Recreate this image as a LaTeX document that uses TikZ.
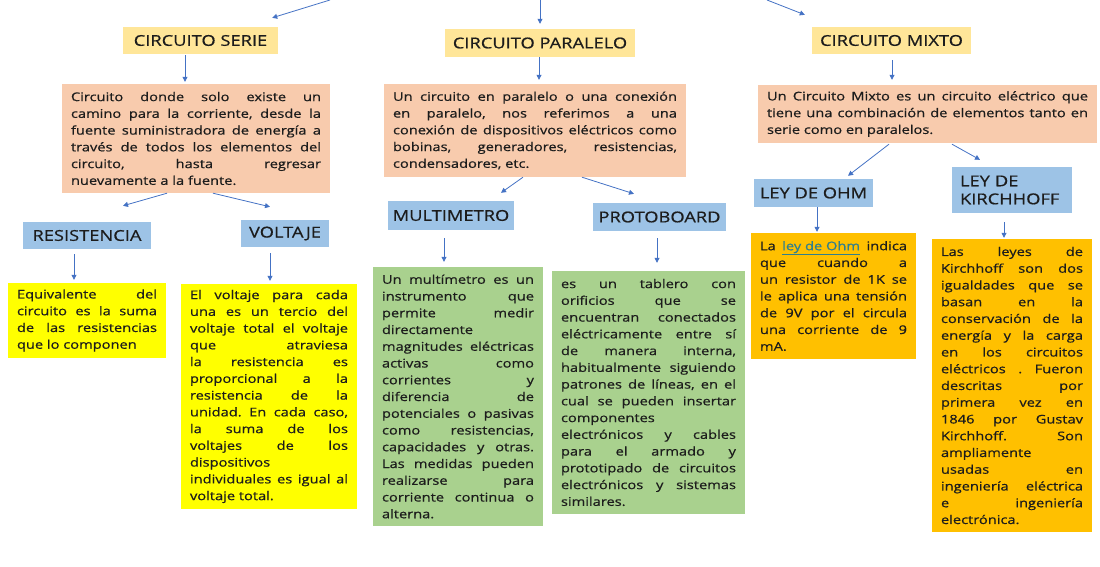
\documentclass[tikz,border=0pt]{standalone}
\usepackage{fontspec}
\setmainfont{Open Sans}[FakeStretch=1.22,FakeBold=0.6]
\usetikzlibrary{arrows.meta}
\definecolor{titulofill}{HTML}{FFE699}
\definecolor{salmon}{HTML}{F8CBAD}
\definecolor{celeste}{HTML}{9DC3E6}
\definecolor{amarillo}{HTML}{FFFF00}
\definecolor{verde}{HTML}{A9D18E}
\definecolor{naranja}{HTML}{FFC000}
\definecolor{flechaazul}{HTML}{4472C4}
\definecolor{enlace}{HTML}{2F7F8F}
\definecolor{tinta}{HTML}{1C1C1C}
\tikzset{
  titulo/.style={fill=titulofill,inner sep=0pt,font=\fontsize{15}{18}\selectfont,text=tinta},
  tema/.style={titulo,fill=celeste},
  texto/.style={inner xsep=9pt,inner ysep=0pt,align=justify,text=tinta,
    font={\fontsize{12}{16.75}\selectfont\frenchspacing\tolerance=10000\relax\hbadness=10000\relax\hyphenpenalty=10000\relax}},
  desc/.style={texto,fill=salmon},
  nota/.style={texto,fill=amarillo},
  hoja/.style={texto,fill=verde},
  ley/.style={texto,fill=naranja},
  flecha/.style={-{Triangle[length=5pt,width=5pt]},draw=flechaazul,line width=0.8pt}
}

\begin{document}
\begin{tikzpicture}[x=1pt,y=-1pt]
  \useasboundingbox (0,0) rectangle (1100,567);

  % titles
  \node[titulo,minimum width=155pt,minimum height=27pt] (serie) at (200.5,40.5) {CIRCUITO SERIE};
  \node[titulo,minimum width=190pt,minimum height=28pt] (paralelo) at (540,43) {CIRCUITO PARALELO};
  \node[titulo,minimum width=159pt,minimum height=27pt] (mixto) at (891.5,40.5) {CIRCUITO MIXTO};

  % definitions
  \node[desc,text width=250pt,minimum height=109pt] (dserie) at (196,138.5) {%
    Circuito donde solo existe un\linebreak
    camino para la corriente, desde la\linebreak
    fuente suministradora de energía a\linebreak
    través de todos los elementos del\linebreak
    circuito, hasta regresar\linebreak
    nuevamente a la fuente.};
  \node[desc,text width=284pt,minimum height=93pt] (dparalelo) at (535,130.5) {%
    Un circuito en paralelo o una conexión\linebreak
    en paralelo, nos referimos a una\linebreak
    conexión de dispositivos eléctricos como\linebreak
    bobinas, generadores, resistencias,\linebreak
    condensadores, etc.};
  \node[desc,text width=321pt,minimum height=58pt] (dmixto) at (927.5,114) {%
    Un Circuito Mixto es un circuito eléctrico que\linebreak
    tiene una combinación de elementos tanto en\linebreak
    serie como en paralelos.};

  % topics
  \node[tema,minimum width=128pt,minimum height=27pt] (resist) at (87,235.5) {RESISTENCIA};
  \node[tema,minimum width=88pt,minimum height=27pt] (voltaje) at (285,233.5) {VOLTAJE};
  \node[tema,minimum width=126pt,minimum height=29pt] (multi) at (451,215.5) {MULTIMETRO};
  \node[tema,minimum width=133pt,minimum height=28pt] (proto) at (659.5,217) {PROTOBOARD};
  \node[tema,minimum width=119pt,minimum height=28pt] (ohm) at (813.5,193) {LEY DE OHM};
  \node[tema,minimum width=120pt,minimum height=46pt,text width=104pt,align=left] (kirch) at (1012,190) {LEY DE\\KIRCHHOFF};

  % explanations
  \node[nota,text width=140pt,minimum height=75pt] (dresist) at (87,320.5) {%
    Equivalente del\linebreak
    circuito es la suma\linebreak
    de las resistencias\linebreak
    que lo componen};
  \node[nota,text width=158pt,minimum height=225pt] (dvoltaje) at (269,396.5) {%
    El voltaje para cada\linebreak
    una es un tercio del\linebreak
    voltaje total el voltaje\linebreak
    que atraviesa\linebreak
    la resistencia es\linebreak
    proporcional a la\linebreak
    resistencia de la\linebreak
    unidad. En cada caso,\linebreak
    la suma de los\linebreak
    voltajes de los\linebreak
    dispositivos\newline
    individuales es igual al\linebreak
    voltaje total.};
  \node[hoja,text width=152pt,minimum height=259pt] (dmulti) at (458,396.5) {%
    Un multímetro es un\linebreak
    instrumento que\linebreak
    permite medir\linebreak
    directamente\newline
    magnitudes eléctricas\linebreak
    activas como\linebreak
    corrientes y\linebreak
    diferencia de\linebreak
    potenciales o pasivas\linebreak
    como resistencias,\linebreak
    capacidades y otras.\linebreak
    Las medidas pueden\linebreak
    realizarse para\linebreak
    corriente continua o\linebreak
    alterna.};
  \node[hoja,text width=175pt,minimum height=243pt] (dproto) at (648.5,392.5) {%
    es un tablero con\linebreak
    orificios que se\linebreak
    encuentran conectados\linebreak
    eléctricamente entre sí\linebreak
    de manera interna,\linebreak
    habitualmente siguiendo\linebreak
    patrones de líneas, en el\linebreak
    cual se pueden insertar\linebreak
    componentes\newline
    electrónicos y cables\linebreak
    para el armado y\linebreak
    prototipado de circuitos\linebreak
    electrónicos y sistemas\linebreak
    similares.};
  \node[ley,text width=147pt,minimum height=126pt] (dohm) at (833.5,296) {%
    La {\color{enlace}\underline{ley de Ohm}} indica\linebreak
    que cuando a\linebreak
    un resistor de 1K se\linebreak
    le aplica una tensión\linebreak
    de 9V por el circula\linebreak
    una corriente de 9\linebreak
    mA.};
  \node[ley,text width=142pt,minimum height=293pt] (dkirch) at (1012,385.5) {%
    Las leyes de\linebreak
    Kirchhoff son dos\linebreak
    igualdades que se\linebreak
    basan en la\linebreak
    conservación de la\linebreak
    energía y la carga\linebreak
    en los circuitos\linebreak
    eléctricos . Fueron\linebreak
    descritas por\linebreak
    primera vez en\linebreak
    1846 por Gustav\linebreak
    Kirchhoff. Son\linebreak
    ampliamente\newline
    usadas en\linebreak
    ingeniería eléctrica\linebreak
    e ingeniería\linebreak
    electrónica.};

  % connectors
  \coordinate (arriba1) at (330,0);
  \coordinate (arriba2) at (540,0);
  \coordinate (arriba3) at (767,0);
  \draw[flecha] (arriba1) -- ([xshift=-6pt,yshift=9pt]serie.north east);
  \draw[flecha] (arriba2) -- ([yshift=5pt]paralelo.north);
  \draw[flecha] (arriba3) -- ([xshift=-7pt,yshift=12pt]mixto.north west);

  \draw[flecha] ([xshift=-15.5pt,yshift=-1pt]serie.south) -- ([xshift=-11pt,yshift=2pt]dserie.north);
  \draw[flecha] ([xshift=-1pt]paralelo.south) -- ([xshift=4pt,yshift=4pt]dparalelo.north);
  \draw[flecha] ([xshift=0.5pt,yshift=-6pt]mixto.south) -- ([xshift=-35.5pt,yshift=5pt]dmixto.north);

  \draw[flecha] ([xshift=-29pt]dserie.south) -- ([xshift=36pt,yshift=16pt]resist.north);
  \draw[flecha] ([xshift=17pt]dserie.south) -- ([xshift=-15pt,yshift=13pt]voltaje.north);
  \draw[flecha] ([xshift=-12pt]dparalelo.south) -- ([xshift=50pt,yshift=8pt]multi.north);
  \draw[flecha] ([xshift=47pt]dparalelo.south) -- ([xshift=-25.5pt,yshift=9pt]proto.north);
  \draw[flecha] ([xshift=-38.5pt,yshift=-1pt]dmixto.south) -- ([xshift=34.5pt,yshift=3pt]ohm.north);
  \draw[flecha] ([xshift=24.5pt,yshift=-1pt]dmixto.south) -- ([xshift=-32pt,yshift=7pt]kirch.north);

  \draw[flecha] ([xshift=-13pt,yshift=-5pt]resist.south) -- ([xshift=-13pt,yshift=3pt]dresist.north);
  \draw[flecha] ([xshift=-15pt,yshift=-6pt]voltaje.south) -- ([xshift=1pt,yshift=3pt]dvoltaje.north);
  \draw[flecha] ([xshift=-7pt,yshift=-8pt]multi.south) -- ([xshift=-14pt,yshift=5pt]dmulti.north);
  \draw[flecha] ([xshift=-2.5pt,yshift=-7pt]proto.south) -- ([xshift=8.5pt,yshift=8pt]dproto.north);
  \draw[flecha] ([xshift=3.5pt]ohm.south) -- ([xshift=-16.5pt,yshift=1pt]dohm.north);
  \draw[flecha] ([xshift=-8pt,yshift=-9pt]kirch.south) -- ([xshift=-8pt,yshift=1pt]dkirch.north);
\end{tikzpicture}
\end{document}
